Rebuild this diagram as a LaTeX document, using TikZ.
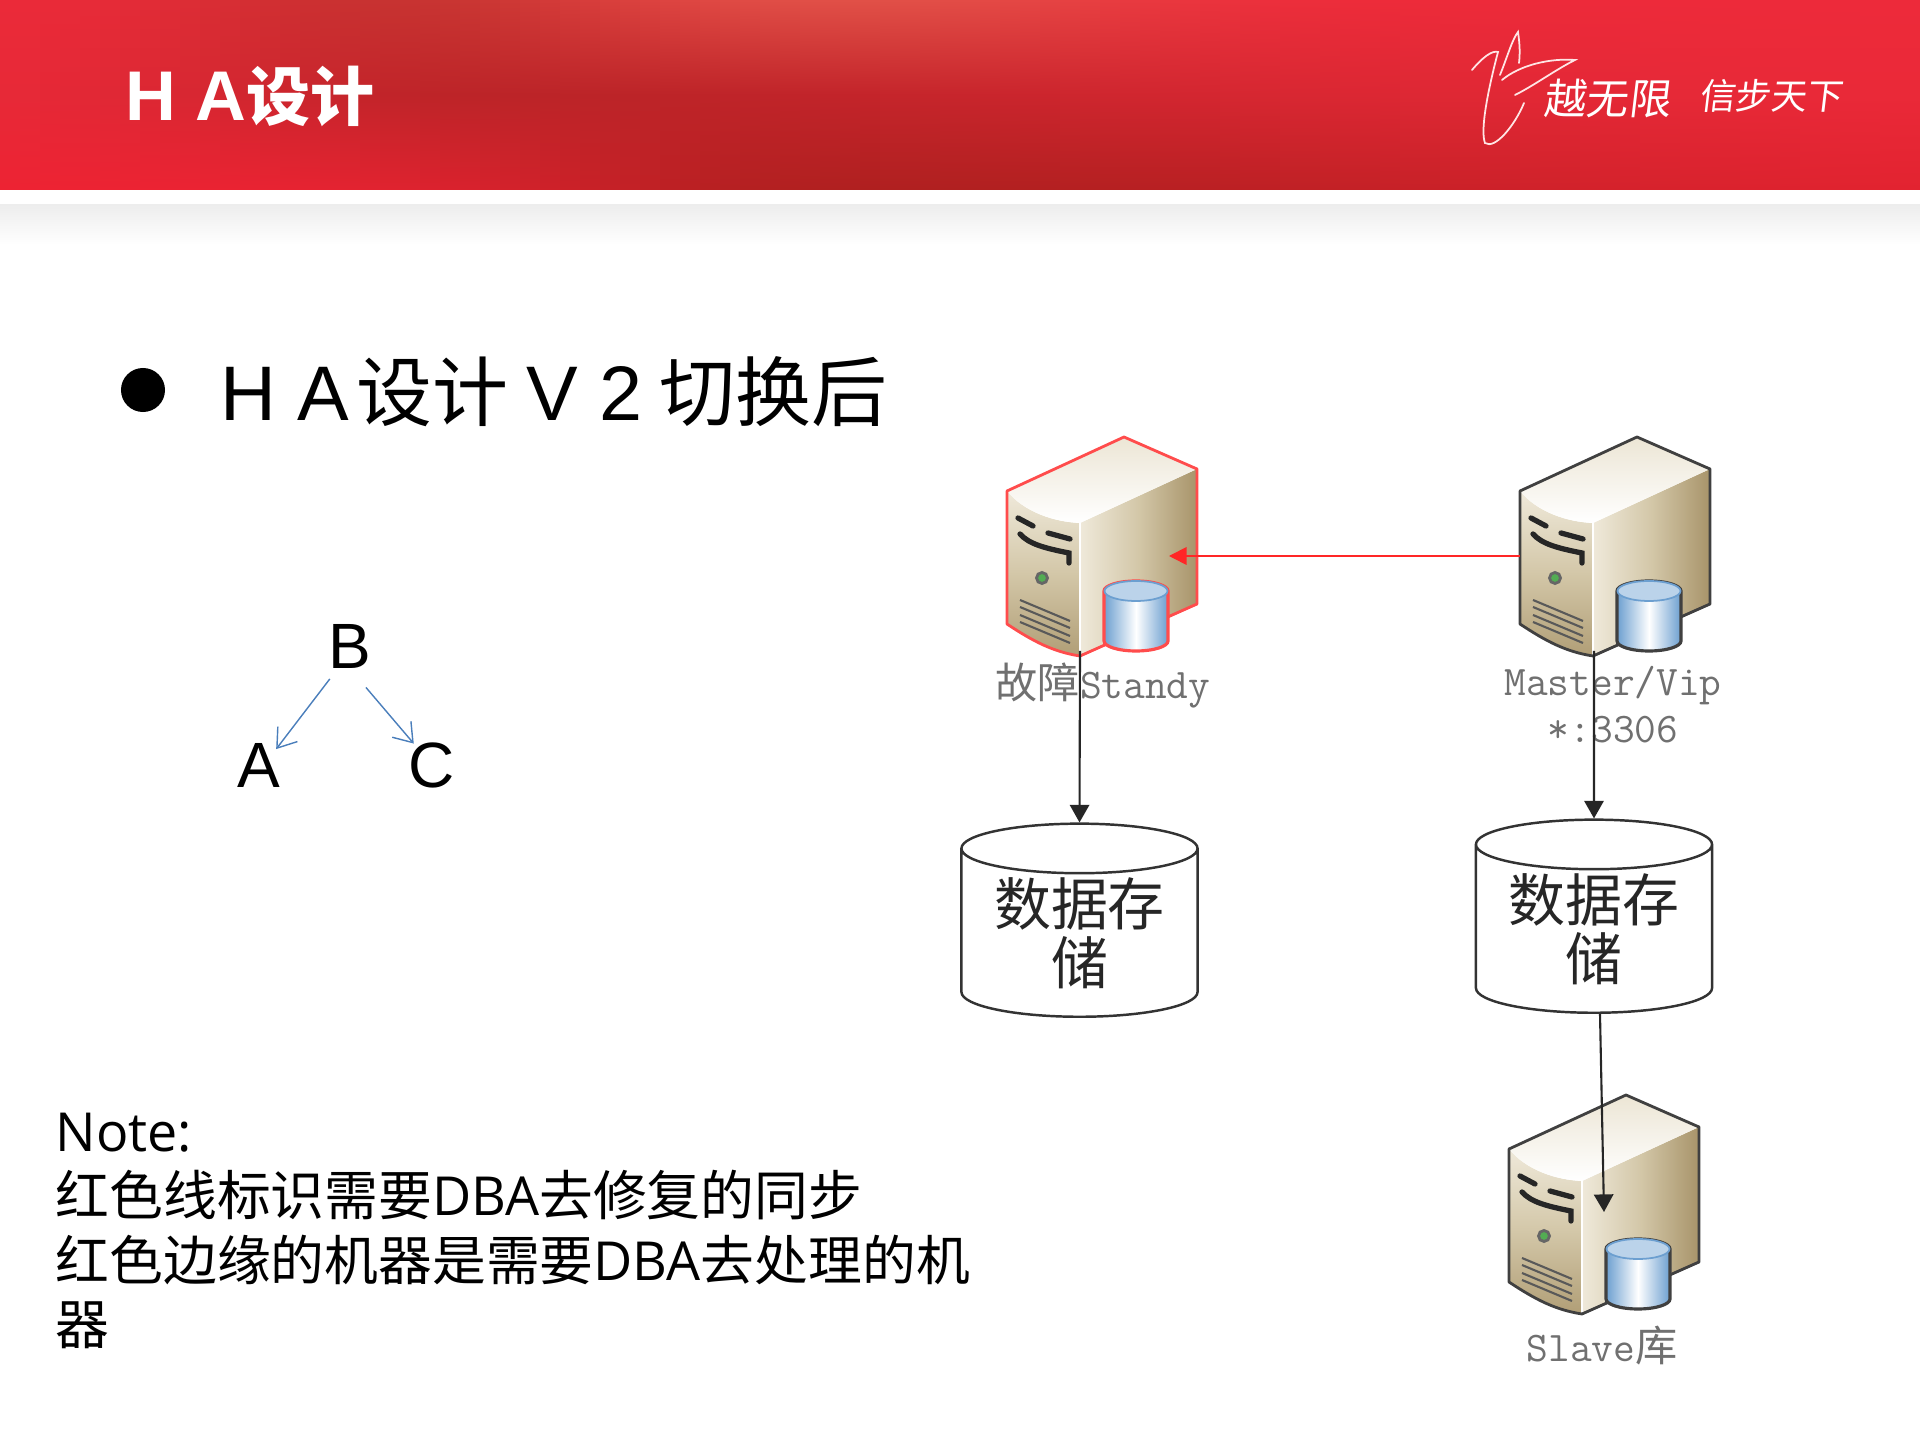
\documentclass[tikz,border=0pt]{standalone}
\usepackage{fontspec}
\setmainfont{Liberation Sans}
\newfontfamily\cjk{Noto Sans CJK SC}
\newfontfamily\opensans{Open Sans}
\usetikzlibrary{shapes.geometric,arrows.meta}
\definecolor{treeblue}{HTML}{4A7EBB}
\definecolor{tanlight}{HTML}{EFE9DA}
\definecolor{tanmid}{HTML}{D3C7A8}
\definecolor{tandark}{HTML}{A8946A}
\definecolor{edgegray}{HTML}{404040}
\definecolor{labelgray}{HTML}{707070}
\definecolor{diskblue}{HTML}{6C9FD0}
\definecolor{disktop}{HTML}{BBD3EA}
\tikzset{
  serveredge/.style={draw=#1, line width=.8pt, line join=round},
  slotline/.style={draw=black!85, line width=1.5pt, line cap=round},
  ventline/.style={draw=black!65, line width=.6pt},
  logoline/.style={draw=white!90!red, line width=.5pt, line cap=round},
  storenode/.style={cylinder, shape border rotate=90, draw=black!80, fill=white, line width=.7pt,
    minimum width=2.36cm, minimum height=1.93cm, aspect=.29, inner sep=0pt, align=center, anchor=south,
    font=\cjk\fontsize{16.2}{16.8}\selectfont, text=black!85},
  serverlabel/.style={text=labelgray, font=\ttfamily\fontsize{12}{12}\selectfont, inner sep=0pt},
  treelabel/.style={font=\fontsize{18.2}{20}\selectfont, inner sep=0pt},
  treearrow/.style={-{Straight Barb[length=5pt,width=7pt]}, draw=treeblue, line width=.4pt},
  blackarrow/.style={-{Triangle[length=5pt,width=5.5pt]}, draw=black!85, line width=.6pt},
  pics/server/.style={code={
    % side, front and top of the case
    \shade[left color=tanlight, right color=tandark, middle color=tanmid] (-44,86) -- (73,32) -- (73,167) -- (-44,219) -- cycle;
    \shade[top color=tanlight, bottom color=tandark!80!tanmid, middle color=tanmid] (-117,54) .. controls (-100,75) and (-70,85) .. (-44,86) -- (-44,219) .. controls (-70,215) and (-90,205) .. (-117,187) -- cycle;
    \shade[bottom color=white, top color=tanlight!90!tanmid] (-117,54) -- (0,0) -- (73,32) -- (-44,86) .. controls (-70,85) and (-100,75) .. cycle;
    \draw[white, line width=.4pt] (-44,86) -- (-44,219);
    \draw[serveredge=#1] (-117,54) -- (0,0) -- (73,32) -- (73,167) -- (-44,219) .. controls (-70,215) and (-90,205) .. (-117,187) -- cycle;
    % slots, lamp and vents
    \draw[slotline] (-106,81) -- (-91,89);
    \draw[slotline] (-76,96) -- (-54,102);
    \draw[slotline] (-104,97) .. controls (-95,107) and (-80,111) .. (-55,116) -- (-55,126);
    \draw[black!60, fill=green!35!gray, line width=.8pt] (-82,141) circle (5.5);
    \foreach \ventrow in {163,170,178,185} {
      \draw[ventline] (-104,\ventrow) -- (-54,\ventrow+21);
    }
    % disk in front of the case
    \path[draw=#1, line width=.9pt, left color=diskblue, right color=diskblue, middle color=white]
      (-20,154) -- (-20,204) arc[start angle=180, end angle=360, x radius=32, y radius=-10] -- (44,154) arc[start angle=0, end angle=180, x radius=32, y radius=-10] -- cycle;
    \draw[draw=diskblue, fill=disktop, line width=.5pt] (12,154) ellipse [x radius=31.5, y radius=10];
  }}
}
\begin{document}
\begin{tikzpicture}[x=0.01cm, y=-0.01cm]
  \useasboundingbox (0,0) rectangle (1920,1440);
  % title bar, one narrow strip after another
  \foreach \barx in {0,20,...,1900} {
    \pgfmathsetmacro{\darkleft}{exp(-((\barx-380)/230)^2)}
    \pgfmathsetmacro{\lightmid}{exp(-((\barx-850)/300)^2)}
    \pgfmathsetmacro{\darkmid}{\barx<500 ? exp(-((\barx-500)/350)^2) : exp(-((\barx-500)/850)^2)}
    \pgfmathsetmacro{\darklow}{\barx<850 ? exp(-((\barx-850)/380)^2) : exp(-((\barx-850)/800)^2)}
    \pgfmathtruncatemacro{\topr}{238-37*\darkleft-12*\lightmid}
    \pgfmathtruncatemacro{\topg}{42+6*\darkleft+38*\lightmid}
    \pgfmathtruncatemacro{\topb}{58-10*\darkleft+14*\lightmid}
    \pgfmathtruncatemacro{\midr}{238-50*\darkmid}
    \pgfmathtruncatemacro{\midg}{42-6*\darkmid}
    \pgfmathtruncatemacro{\midb}{58-18*\darkmid}
    \pgfmathtruncatemacro{\lowr}{238-62*\darklow}
    \pgfmathtruncatemacro{\lowg}{36-4*\darklow}
    \pgfmathtruncatemacro{\lowb}{52-20*\darklow}
    \definecolor{striptop}{RGB}{\topr,\topg,\topb}
    \definecolor{stripmid}{RGB}{\midr,\midg,\midb}
    \definecolor{striplow}{RGB}{\lowr,\lowg,\lowb}
    \shade[top color=striptop, bottom color=striplow, middle color=stripmid] (\barx,0) rectangle (\barx+21,190);
  }
  \fill[top color=black!7, bottom color=white] (0,205) rectangle (1920,245);
  \node[anchor=west, text=white, inner sep=0pt, font=\bfseries\fontsize{20}{20}\selectfont] (title) at (125,96) {H A{\cjk\bfseries\fontsize{18.2}{20}\selectfont 设计}};
  \node[anchor=west, text=white, inner sep=0pt, font=\cjk\fontsize{12}{12}\selectfont, xslant=.12] (logoleft) at (1545,98) {越无限};
  \node[anchor=west, text=white, inner sep=0pt, font=\cjk\fontsize{10.2}{10.2}\selectfont, xslant=.12] (logoright) at (1700,96) {信步天下};
  \draw[logoline] (1472,70) .. controls (1482,58) and (1492,50) .. (1498,52) .. controls (1488,90) and (1480,130) .. (1485,143) .. controls (1495,150) and (1515,125) .. (1524,103);
  \draw[logoline] (1500,75) .. controls (1508,55) and (1512,40) .. (1518,32) .. controls (1520,45) and (1520,55) .. (1519,63);
  \draw[logoline] (1502,80) .. controls (1520,65) and (1550,58) .. (1575,60) .. controls (1555,70) and (1535,85) .. (1515,95);
  % heading and bullet
  \node[circle, fill=black, inner sep=0pt, minimum size=.44cm] (bullet) at (143,390) {};
  \node[anchor=west, inner sep=0pt, font=\fontsize{22}{22}\selectfont] (heading) at (220,392) {H A\kern2pt{\cjk\fontsize{21.6}{22}\selectfont 设计}\kern5pt V 2\kern5pt{\cjk\fontsize{21.6}{22}\selectfont 切换后}};
  % the small tree
  \node[treelabel] (B) at (350,646) {B};
  \node[treelabel] (A) at (259,765) {A};
  \node[treelabel] (C) at (432,765) {C};
  \draw[treearrow, shorten <=11.8pt, shorten >=5.7pt] ([xshift=.05cm]B.center) -- ([xshift=.05cm]A.center);
  \draw[treearrow, shorten <=7pt, shorten >=8pt] (B.south) -- (C.center);
  % note
  \node[anchor=north west, inner sep=0pt, align=left, font=\cjk\fontsize{15.3}{18.35}\selectfont] (note) at (55,1112)
    {{\opensans Note:}\\红色线标识需要{\opensans DBA}去修复的同步\\红色边缘的机器是需要{\opensans DBA}去处理的机\\器};
  % servers
  \pic (standby) at (1124,437) {server=red!70!white};
  \pic (master) at (1637,437) {server=edgegray};
  \pic (slave) at (1626,1095) {server=edgegray};
  \coordinate (standbyfoot) at (1080,651);
  \coordinate (masterfoot) at (1594,651);
  \coordinate (masterside) at (1520,556);
  \coordinate (standbyside) at (1169,556);
  \coordinate (slavebody) at (1604,1212);
  \node[serverlabel] (standbytext) at (1103,686) {{\cjk 故障}Standy};
  \node[serverlabel] (mastertext) at (1613,686) {Master/Vip};
  \node[serverlabel] (porttext) at (1613,730) {*:3306};
  \node[serverlabel] (slavetext) at (1602,1346) {Slave{\cjk 库}};
  % storage
  \node[storenode] (standbystore) at (1079.5,1018) {数据存\\储};
  \node[storenode] (masterstore) at (1594,1014) {数据存\\储};
  % connectors
  \draw[-{Triangle[length=5pt,width=5pt]}, draw=red!85!white, fill=red, line width=.5pt] (masterside) -- (standbyside);
  \draw[blackarrow] (standbyfoot) -- (standbystore.north);
  \draw[blackarrow] (masterfoot) -- (masterstore.north);
  \draw[blackarrow] ([xshift=.06cm]masterstore.south) -- (slavebody);
\end{tikzpicture}
\end{document}
